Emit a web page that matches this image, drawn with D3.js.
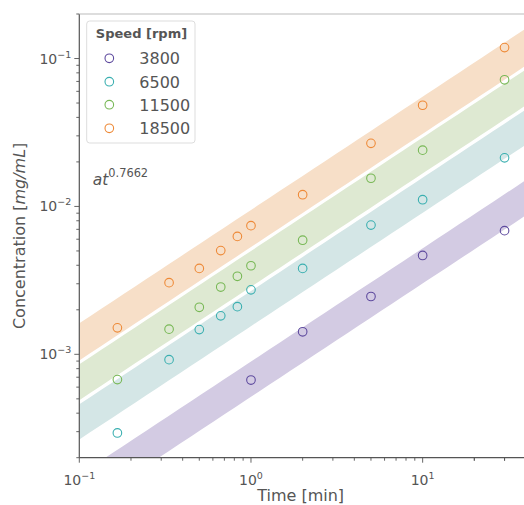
<!DOCTYPE html>
<html>
<head>
<meta charset="utf-8">
<script src="https://cdn.jsdelivr.net/npm/d3@7/dist/d3.min.js"></script>
<style>
  html, body { margin: 0; padding: 0; background: #fff; }
  svg { display: block; font-family: "DejaVu Sans", sans-serif; }
</style>
</head>
<body>
<div id="chart"></div>
<script>
// ---- data ----
const speeds = ["3800", "6500", "11500", "18500"];
const colors = ["#5e4a9e", "#3aafb0", "#78b856", "#ee8a38"];
const bandColors = ["#d3cbe3", "#d4e6e6", "#dee9d2", "#f7dfc8"];
const times = [1/6, 1/3, 0.5, 2/3, 5/6, 1, 2, 5, 10, 30];
const times3800 = [1, 2, 5, 10, 30];
const conc3800 = [6.70e-4, 1.42e-3, 2.46e-3, 4.66e-3, 6.86e-3];
const conc6500 = [2.94e-4, 9.20e-4, 1.47e-3, 1.82e-3, 2.10e-3, 2.73e-3, 3.81e-3, 7.48e-3, 1.11e-2, 2.13e-2];
const conc11500 = [6.75e-4, 1.48e-3, 2.08e-3, 2.85e-3, 3.37e-3, 3.97e-3, 5.91e-3, 1.55e-2, 2.40e-2, 7.18e-2];
const conc18500 = [1.51e-3, 3.05e-3, 3.81e-3, 5.03e-3, 6.27e-3, 7.41e-3, 1.20e-2, 2.67e-2, 4.83e-2, 0.1186];
const exponent = 0.7662;
const bandLow = [5.16e-4, 1.55e-3, 2.86e-3, 5.31e-3];
const bandHigh = [8.93e-4, 2.68e-3, 5.00e-3, 9.46e-3];
const xMajorTicks = [0.1, 1, 10];
const xTickExp = ["−1", "0", "1"];
const yMajorTicks = [1e-3, 1e-2, 1e-1];
const yTickExp = ["−3", "−2", "−1"];

const seriesTimes = [times3800, times, times, times];
const seriesConc = [conc3800, conc6500, conc11500, conc18500];

// ---- layout ----
const W = 524, H = 505;
const mLeft = 79.3, mRight = 526, mTop = 14, mBottom = 457.7;
const textColor = "#555";

const svg = d3.select("#chart").append("svg").attr("width", W).attr("height", H);

const x = d3.scaleLog().domain([0.1, 40]).range([mLeft, mRight]);
const y = d3.scaleLog().domain([2e-4, 0.2]).range([mBottom, mTop]);

svg.append("defs").append("clipPath").attr("id", "clip")
  .append("rect").attr("x", mLeft).attr("y", mTop).attr("width", mRight - mLeft).attr("height", mBottom - mTop);

const plot = svg.append("g").attr("clip-path", "url(#clip)");

// bands
const tGrid = d3.range(0, 41).map(i => Math.pow(10, -1 + i * (Math.log10(40) + 1) / 40));
speeds.forEach((s, i) => {
  const area = d3.area()
    .x(t => x(t))
    .y0(t => y(bandLow[i] * Math.pow(t, exponent)))
    .y1(t => y(bandHigh[i] * Math.pow(t, exponent)));
  plot.append("path").datum(tGrid).attr("d", area)
    .attr("fill", bandColors[i]).attr("stroke", "none");
});

// points
speeds.forEach((s, i) => {
  const pts = seriesTimes[i].map((t, j) => [t, seriesConc[i][j]]);
  plot.selectAll(null).data(pts).enter().append("circle")
    .attr("cx", d => x(d[0])).attr("cy", d => y(d[1])).attr("r", 4.3)
    .attr("fill", "none").attr("stroke", colors[i]).attr("stroke-width", 1.1);
});

// x axis
const xg = svg.append("g").attr("transform", `translate(0,${mBottom})`);
const xAll = d3.range(-1, 2).flatMap(e => d3.range(1, 10).map(m => m * Math.pow(10, e))).concat([20, 30]);
const isMajor = (arr, d) => arr.some(m => Math.abs(m - d) / m < 1e-9);
xg.selectAll("line.t").data(xAll).enter().append("line")
  .attr("x1", d => x(d)).attr("x2", d => x(d)).attr("y1", 0)
  .attr("y2", d => isMajor(xMajorTicks, d) ? 5 : 3)
  .attr("stroke", "#555").attr("stroke-width", 0.9);
xg.append("line").attr("x1", mLeft).attr("x2", W).attr("y1", 0).attr("y2", 0).attr("stroke", "#555").attr("stroke-width", 1.2);
xMajorTicks.forEach((t, i) => {
  const tx = xg.append("text").attr("x", x(t)).attr("y", 27).attr("text-anchor", "middle")
    .attr("fill", textColor).style("font-size", "14px");
  tx.append("tspan").text("10");
  tx.append("tspan").attr("dy", -6).style("font-size", "9.5px").text(xTickExp[i]);
});

// y axis
const yAll = d3.range(-4, 0).flatMap(e => d3.range(1, 10).map(m => m * Math.pow(10, e))).filter(v => v >= 2e-4 * 0.999 && v <= 0.2 * 1.001);
const yg = svg.append("g");
yg.selectAll("line.t").data(yAll).enter().append("line")
  .attr("y1", d => y(d)).attr("y2", d => y(d)).attr("x1", mLeft)
  .attr("x2", d => isMajor(yMajorTicks, d) ? mLeft - 5 : mLeft - 3)
  .attr("stroke", "#555").attr("stroke-width", 0.9);
yg.append("line").attr("x1", mLeft).attr("x2", mLeft).attr("y1", mTop).attr("y2", mBottom).attr("stroke", "#555").attr("stroke-width", 1.2);
yMajorTicks.forEach((v, i) => {
  const tx = yg.append("text").attr("x", mLeft - 8).attr("y", y(v) + 5).attr("text-anchor", "end")
    .attr("fill", textColor).style("font-size", "14px");
  tx.append("tspan").text("10");
  tx.append("tspan").attr("dy", -6).style("font-size", "9.5px").text(yTickExp[i]);
});

// top spine (light)
svg.append("line").attr("x1", mLeft).attr("x2", W).attr("y1", mTop).attr("y2", mTop).attr("stroke", "#bbb").attr("stroke-width", 1);

// axis labels
svg.append("text").attr("x", (mLeft + 522) / 2).attr("y", 501).attr("text-anchor", "middle")
  .attr("fill", textColor).style("font-size", "16px").text("Time [min]");
const yl = svg.append("text").attr("transform", `translate(25,${(mTop + mBottom) / 2}) rotate(-90)`)
  .attr("text-anchor", "middle").attr("fill", textColor).style("font-size", "16px");
yl.append("tspan").text("Concentration [");
yl.append("tspan").style("font-style", "italic").text("mg/mL");
yl.append("tspan").text("]");

// annotation
const ann = svg.append("text").attr("x", 92.7).attr("y", 185).attr("fill", textColor).style("font-size", "15.5px");
ann.append("tspan").style("font-style", "italic").text("at");
ann.append("tspan").attr("dy", -8).style("font-size", "11.4px").text(String(exponent));

// legend
const lg = svg.append("g");
lg.append("rect").attr("x", 86.7).attr("y", 21).attr("width", 108.3).attr("height", 122).attr("rx", 3)
  .attr("fill", "#fff").attr("fill-opacity", 0.85).attr("stroke", "#ddd").attr("stroke-width", 1);
lg.append("text").attr("x", 141.5).attr("y", 38).attr("text-anchor", "middle").attr("fill", textColor)
  .style("font-size", "13px").style("font-weight", "bold").text("Speed [rpm]");
const rowY = [58.3, 81.7, 104.7, 128.3];
speeds.forEach((s, i) => {
  lg.append("circle").attr("cx", 109.3).attr("cy", rowY[i]).attr("r", 4.3)
    .attr("fill", "none").attr("stroke", colors[i]).attr("stroke-width", 1.1);
  lg.append("text").attr("x", 139.3).attr("y", rowY[i] + 6).attr("fill", textColor)
    .style("font-size", "16px").text(s);
});
</script>
</body>
</html>
